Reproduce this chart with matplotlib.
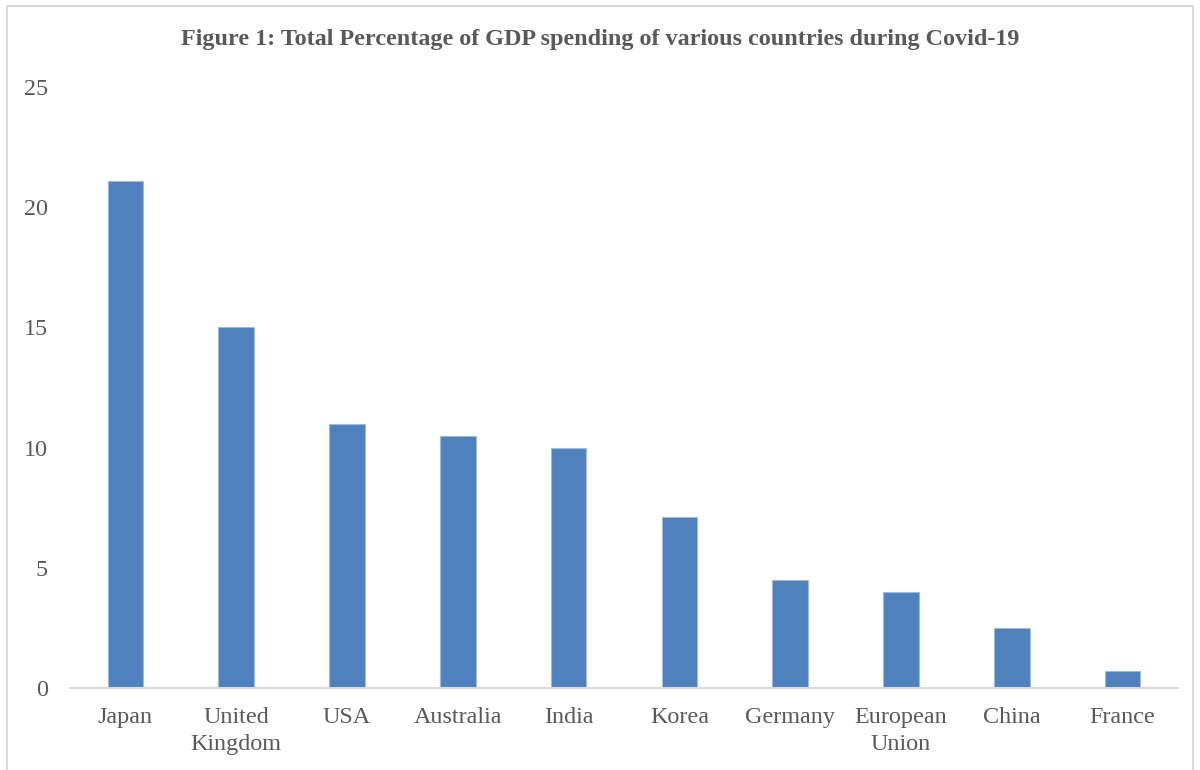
import matplotlib
matplotlib.use("Agg")
import matplotlib.pyplot as plt
from matplotlib.patches import Rectangle

categories = ["Japan", "United\nKingdom", "USA", "Australia", "India", "Korea",
              "Germany", "European\nUnion", "China", "France"]
values = [21.1, 15.0, 11.0, 10.5, 10.0, 7.1, 4.5, 4.0, 2.5, 0.7]
yticks = [0, 5, 10, 15, 20, 25]
title = "Figure 1: Total Percentage of GDP spending of various countries during Covid-19"

plt.rcParams['font.family'] = ['Liberation Serif', 'DejaVu Serif']

fig = plt.figure(figsize=(12, 7.7), dpi=100)
ax = fig.add_axes([70/1200, 1-688/770, (1178-70)/1200, (688-87)/770])

x = list(range(len(categories)))
ax.bar(x, values, width=0.32, color="#4F81BD", edgecolor="#9DB9DE", linewidth=0.8, zorder=2)

ax.set_xlim(-0.5, len(categories)-0.5)
ax.set_ylim(0, 25)
ax.set_yticks(yticks)
ax.set_xticks(x)
ax.set_xticklabels(categories, fontsize=17.4, color="#595959", linespacing=1.33)
ax.set_yticklabels([str(t) for t in yticks], fontsize=17.4, color="#595959")
ax.tick_params(axis='both', length=0)
ax.tick_params(axis='y', pad=16)
ax.tick_params(axis='x', pad=14)
for s in ["top", "right", "left"]:
    ax.spines[s].set_visible(False)
ax.spines["bottom"].set_color("#D9D9D9")
ax.spines["bottom"].set_linewidth(1.5)

fig.text(0.5, 1-40/770, title, ha="center", va="center", fontsize=17.4,
         fontweight="bold", color="#595959")

fig.patches.append(Rectangle((7/1200, -0.1), (1193-7)/1200, 1.1-6/770,
                             transform=fig.transFigure, fill=False,
                             edgecolor="#D9D9D9", linewidth=1.5))

fig.savefig("out.png", dpi=100, facecolor="white")
